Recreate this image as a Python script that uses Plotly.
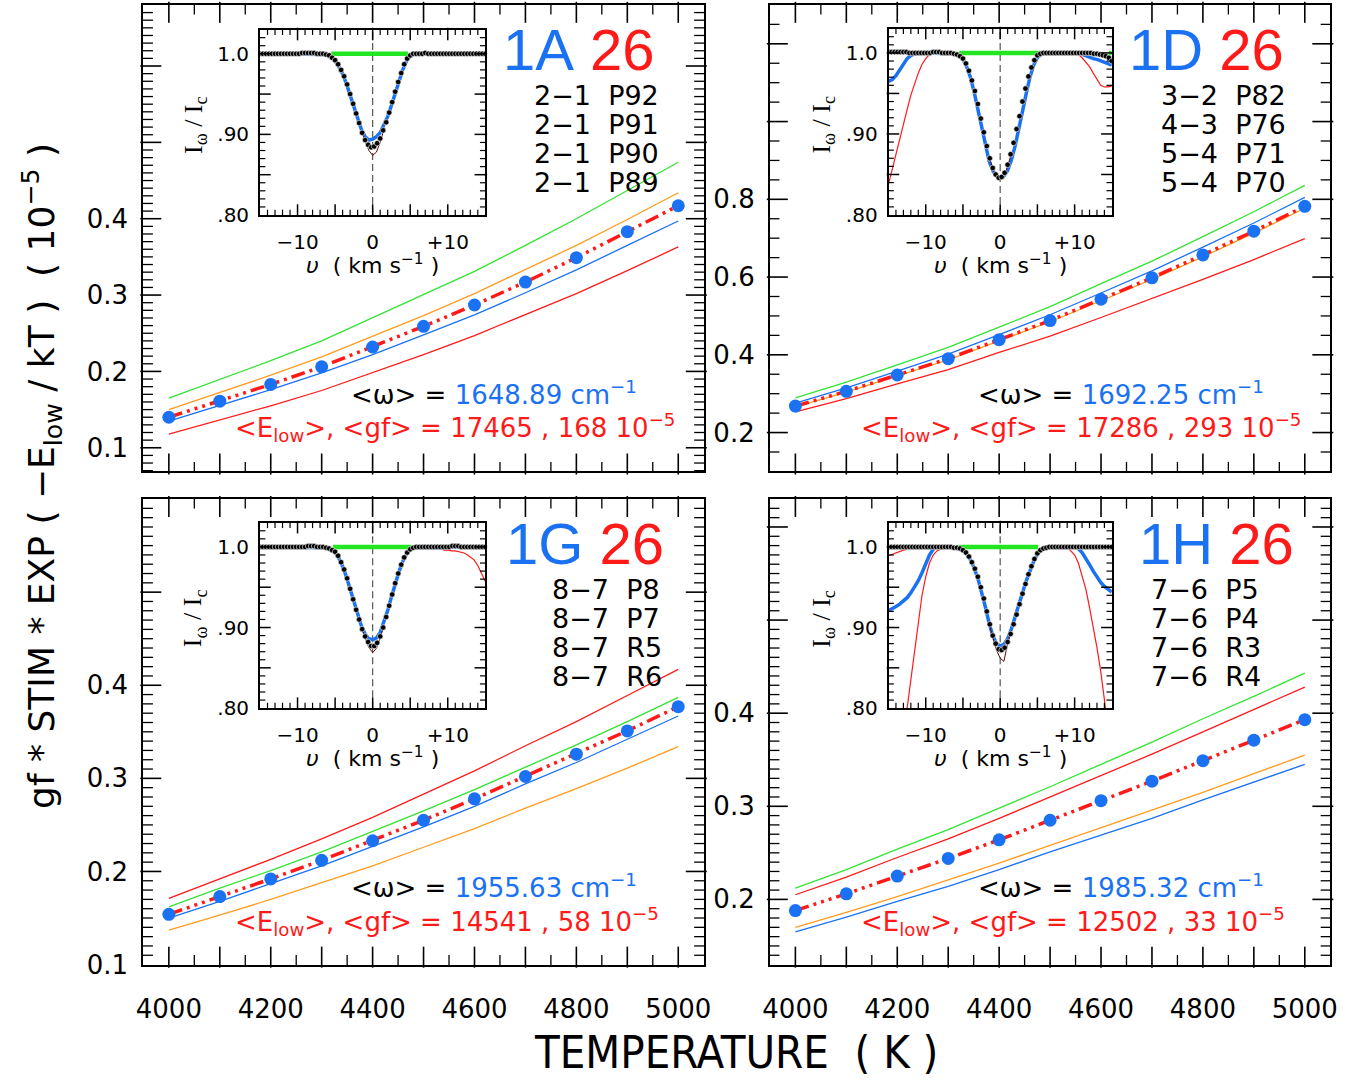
import math
import plotly.graph_objects as go

W, H = 1359, 1092

TEMPS = [4000, 4100, 4200, 4300, 4400, 4500, 4600, 4700, 4800, 4900, 5000]

MEAN_1A   = [0.140, 0.161, 0.183, 0.206, 0.232, 0.259, 0.287, 0.317, 0.349, 0.383, 0.417]
GREEN_1A  = [0.165, 0.189, 0.214, 0.240, 0.270, 0.300, 0.331, 0.365, 0.400, 0.437, 0.474]
ORANGE_1A = [0.150, 0.172, 0.195, 0.219, 0.246, 0.273, 0.302, 0.333, 0.365, 0.399, 0.434]
BLUE_1A   = [0.135, 0.155, 0.176, 0.198, 0.222, 0.248, 0.274, 0.303, 0.333, 0.365, 0.397]
RED_1A    = [0.118, 0.136, 0.155, 0.175, 0.198, 0.222, 0.247, 0.274, 0.302, 0.332, 0.363]

MEAN_1D   = [0.268, 0.306, 0.348, 0.390, 0.439, 0.488, 0.543, 0.598, 0.657, 0.718, 0.782]
GREEN_1D  = [0.289, 0.330, 0.374, 0.419, 0.471, 0.524, 0.583, 0.641, 0.704, 0.768, 0.836]
BLUE_1D   = [0.276, 0.315, 0.358, 0.402, 0.452, 0.503, 0.559, 0.616, 0.677, 0.739, 0.805]
ORANGE_1D = [0.266, 0.304, 0.346, 0.387, 0.436, 0.485, 0.539, 0.594, 0.652, 0.713, 0.777]
RED_1D    = [0.253, 0.287, 0.325, 0.362, 0.406, 0.448, 0.496, 0.544, 0.594, 0.645, 0.699]

MEAN_1G   = [0.154, 0.173, 0.192, 0.212, 0.233, 0.255, 0.278, 0.302, 0.326, 0.351, 0.377]
RED_1G    = [0.171, 0.192, 0.213, 0.235, 0.258, 0.283, 0.308, 0.335, 0.361, 0.389, 0.417]
GREEN_1G  = [0.162, 0.182, 0.201, 0.221, 0.243, 0.265, 0.288, 0.312, 0.336, 0.361, 0.387]
BLUE_1G   = [0.150, 0.168, 0.187, 0.206, 0.227, 0.248, 0.270, 0.294, 0.317, 0.342, 0.367]
ORANGE_1G = [0.137, 0.153, 0.170, 0.188, 0.206, 0.226, 0.246, 0.268, 0.289, 0.311, 0.334]

MEAN_1H   = [0.188, 0.206, 0.225, 0.244, 0.264, 0.285, 0.306, 0.327, 0.349, 0.371, 0.393]
GREEN_1H  = [0.212, 0.232, 0.254, 0.275, 0.298, 0.321, 0.345, 0.369, 0.394, 0.418, 0.443]
RED_1H    = [0.205, 0.224, 0.245, 0.265, 0.287, 0.310, 0.333, 0.356, 0.380, 0.404, 0.428]
ORANGE_1H = [0.170, 0.186, 0.203, 0.221, 0.239, 0.258, 0.277, 0.296, 0.315, 0.335, 0.355]
BLUE_1H   = [0.165, 0.181, 0.198, 0.214, 0.232, 0.251, 0.269, 0.287, 0.307, 0.326, 0.345]

VEL = [-15.0, -14.6, -14.2, -13.8, -13.4, -13.0, -12.6, -12.2, -11.8, -11.4, -11.0,
       -10.6, -10.2, -9.8, -9.4, -9.0, -8.6, -8.2, -7.8, -7.4, -7.0, -6.6,
       -6.2, -5.8, -5.4, -5.0, -4.6, -4.2, -3.8, -3.4, -3.0, -2.6, -2.2, -1.8, -1.4,
       -1.0, -0.6, -0.2, 0.2, 0.6, 1.0, 1.4, 1.8, 2.2, 2.6, 3.0, 3.4, 3.8, 4.2, 4.6,
       5.0, 5.4, 5.8, 6.2, 6.6, 7.0, 7.4, 7.8, 8.2, 8.6, 9.0, 9.4, 9.8, 10.2, 10.6,
       11.0, 11.4, 11.8, 12.2, 12.6, 13.0, 13.4, 13.8, 14.2, 14.6, 15.0]

OBS_1A = [1.000, 1.000, 1.000, 1.000, 1.000, 1.000, 1.000, 1.000, 1.000, 1.000, 1.000,
          1.000, 1.000, 1.000, 1.001, 1.001, 1.001, 1.001, 1.001, 1.000, 1.000, 1.000,
          0.999, 0.998, 0.995, 0.992, 0.987, 0.980, 0.972, 0.962, 0.950, 0.938, 0.926,
          0.914, 0.902, 0.893, 0.887, 0.884, 0.885, 0.889, 0.895, 0.905, 0.915, 0.927,
          0.940, 0.953, 0.965, 0.976, 0.987, 0.994, 0.998, 1.000,
          1.000, 1.000, 1.000, 1.001, 1.000, 1.000, 1.000, 1.000, 1.000, 1.000, 1.000,
          1.000, 1.000, 1.000, 1.000, 1.000, 1.000, 1.000, 1.000, 1.000, 1.000, 1.000,
          1.000, 1.000]
OBS_1D = [1.001, 1.001, 1.001, 1.001, 1.001, 1.001, 1.001, 1.000, 1.000, 1.000, 1.000,
          1.000, 1.000, 1.000, 1.000, 1.001, 1.001, 1.001, 1.000, 1.000, 1.000, 1.000,
          0.999, 0.998, 0.996, 0.993, 0.987, 0.978, 0.966, 0.953, 0.937, 0.919, 0.902,
          0.885, 0.870, 0.858, 0.850, 0.846, 0.847, 0.852, 0.862, 0.875, 0.889, 0.906,
          0.922, 0.940, 0.956, 0.971, 0.982, 0.991, 0.997, 0.999,
          1.000, 1.000, 1.000, 1.000, 1.000, 1.000, 1.000, 1.000, 1.000, 1.000, 1.000,
          1.000, 1.000, 1.000, 1.000, 1.000, 1.000, 0.999, 0.999, 0.998, 0.997, 0.996,
          0.994, 0.990]
OBS_1G = [1.000, 1.000, 1.000, 1.000, 1.000, 1.000, 1.000, 1.000, 1.000, 1.000, 1.000,
          1.000, 1.000, 1.000, 1.000, 1.000, 1.001, 1.001, 1.001, 1.000, 1.000, 1.000,
          0.999, 0.998, 0.996, 0.994, 0.989, 0.981, 0.972, 0.961, 0.948, 0.935, 0.922,
          0.910, 0.898, 0.889, 0.882, 0.877, 0.877, 0.881, 0.889, 0.900, 0.913, 0.927,
          0.941, 0.955, 0.967, 0.978, 0.987, 0.993, 0.997, 0.999,
          1.000, 1.000, 1.000, 1.000, 1.000, 1.000, 1.000, 1.000, 1.000, 1.000, 1.000,
          1.000, 1.001, 1.001, 1.001, 1.000, 1.000, 1.000, 1.000, 1.000, 1.000, 1.000,
          1.000, 1.000]
OBS_1H = [1.000, 1.000, 1.000, 1.000, 1.000, 1.000, 1.000, 1.000, 1.000, 1.000, 1.000,
          1.000, 1.000, 1.000, 1.000, 1.000, 1.000, 1.000, 1.000, 1.000, 1.000, 1.000,
          0.999, 0.999, 0.998, 0.996, 0.993, 0.988, 0.981, 0.973, 0.963, 0.950, 0.936,
          0.920, 0.904, 0.890, 0.880, 0.873, 0.872, 0.875, 0.882, 0.892, 0.904, 0.916,
          0.929, 0.942, 0.954, 0.966, 0.976, 0.985, 0.992, 0.996,
          0.998, 0.999, 1.000, 1.000, 1.000, 1.000, 1.000, 1.000, 1.000, 1.000, 1.000,
          1.000, 1.000, 1.000, 1.000, 1.000, 1.000, 1.000, 1.000, 1.000, 1.000, 1.000,
          1.000, 1.000]

BLUEM_1A_V = [-15, -6.5, -6, -5.5, -5, -4.5, -4, -3.5, -3, -2.5, -2, -1.5, -1, -0.5, 0,
              0.5, 1, 1.5, 2, 2.5, 3, 3.5, 4, 4.5, 5, 5.5, 15]
BLUEM_1A   = [1.0, 1.0, 0.999, 0.996, 0.991, 0.984, 0.975, 0.963, 0.949, 0.934, 0.919,
              0.906, 0.897, 0.893, 0.894, 0.897, 0.902, 0.911, 0.922, 0.936, 0.951, 0.966,
              0.980, 0.991, 0.997, 1.0, 1.0]
BLUEM_1D_V = [-15, -14.5, -14, -13.5, -13, -12.5, -12, -11.5, -11, -10.5,
              -6.5, -6, -5.5, -5, -4.5, -4, -3.5, -3, -2.5, -2, -1.5, -1, -0.5, 0,
              0.5, 1, 1.5, 2, 2.5, 3, 3.5, 4, 4.5, 5, 5.5, 6,
              10.5, 11, 11.5, 12, 12.5, 13, 13.5, 14, 14.5, 15]
BLUEM_1D   = [0.965, 0.967, 0.972, 0.979, 0.987, 0.993, 0.997, 0.999, 1.0, 1.0,
              1.0, 0.999, 0.997, 0.992, 0.983, 0.970, 0.952, 0.930, 0.907, 0.885, 0.867,
              0.855, 0.848, 0.846, 0.848, 0.855, 0.868, 0.885, 0.905, 0.928, 0.950, 0.970,
              0.985, 0.994, 0.998, 1.0,
              1.0, 0.998, 0.996, 0.995, 0.993, 0.992, 0.990, 0.989, 0.987, 0.985]
BLUEM_1G_V = [-15, -6.5, -6, -5.5, -5, -4.5, -4, -3.5, -3, -2.5, -2, -1.5, -1, -0.5, 0,
              0.5, 1, 1.5, 2, 2.5, 3, 3.5, 4, 4.5, 5, 5.5, 15]
BLUEM_1G   = [1.0, 1.0, 0.999, 0.997, 0.993, 0.986, 0.976, 0.963, 0.947, 0.931, 0.916,
              0.902, 0.892, 0.886, 0.885, 0.887, 0.894, 0.906, 0.921, 0.938, 0.954, 0.969,
              0.982, 0.991, 0.997, 0.999, 1.0]
BLUEM_1H_V = [-15, -14.5, -14, -13.5, -13, -12.5, -12, -11.5, -11, -10.5, -10, -9.5, -9, -8.5,
              -6.5, -6, -5.5, -5, -4.5, -4, -3.5, -3, -2.5, -2, -1.5, -1, -0.5, 0,
              0.5, 1, 1.5, 2, 2.5, 3, 3.5, 4, 4.5, 5, 5.5, 6, 6.5,
              10, 10.5, 11, 11.5, 12, 12.5, 13, 13.5, 14, 14.5, 15]
BLUEM_1H   = [0.921, 0.923, 0.926, 0.929, 0.933, 0.937, 0.943, 0.950, 0.958, 0.968, 0.980,
              0.990, 0.997, 1.0,
              1.0, 0.999, 0.998, 0.995, 0.991, 0.984, 0.974, 0.961, 0.945, 0.926, 0.906,
              0.890, 0.880, 0.877, 0.879, 0.886, 0.898, 0.912, 0.928, 0.943, 0.958, 0.971,
              0.982, 0.991, 0.996, 0.999, 1.0,
              1.0, 0.998, 0.993, 0.986, 0.978, 0.970, 0.962, 0.956, 0.951, 0.947, 0.944]

REDM_1A_V = []
REDM_1A   = []
REDM_1D_V = [-15, -14.5, -14, -13.5, -13, -12.5, -12, -11.5, -11, -10.5, -10, -9.5, -9, None,
             10, 10.5, 11, 11.5, 12, 12.5, 13, 13.5, 14, 14.5, 15]
REDM_1D   = [0.838, 0.857, 0.876, 0.895, 0.913, 0.930, 0.948, 0.963, 0.975, 0.986, 0.993,
             0.998, 1.0, None,
             1.0, 0.998, 0.994, 0.989, 0.983, 0.975, 0.967, 0.960, 0.958, 0.958, 0.959]
REDM_1G_V = [8.5, 9, 9.5, 10, 10.5, 11, 11.5, 12, 12.5, 13, 13.5, 14, 14.5, 15]
REDM_1G   = [1.0, 0.999, 0.996, 0.996, 0.995, 0.995, 0.994, 0.993, 0.991, 0.988, 0.984,
             0.977, 0.968, 0.957]
REDM_1H_V = [-15, -14, -13, -12.5, None,
             -12.9, -12.5, -12, -11.5, -11, -10.5, -10, -9.5, -9, -8.5, -8, -7.5, -7, None,
             9, 9.5, 10, 10.5, 11, 11.5, 12, 12.5, 13, 13.5, 14, 14.5]
REDM_1H   = [0.989, 0.993, 0.996, 0.997, None,
             0.785, 0.800, 0.835, 0.870, 0.905, 0.940, 0.963, 0.980, 0.990, 0.995, 0.997,
             0.998, 1.0, None,
             1.0, 0.995, 0.990, 0.980, 0.965, 0.948, 0.925, 0.902, 0.875, 0.846, 0.812, 0.775]

DARK_V  = [-1.5, -1.0, -0.5, 0.0, 0.5, 1.0, 1.5]
DARK_1A = [0.905, 0.893, 0.880, 0.874, 0.878, 0.890, 0.906]
DARK_1D = [0.872, 0.857, 0.847, 0.843, 0.848, 0.860, 0.876]
DARK_1G = [0.900, 0.888, 0.875, 0.869, 0.874, 0.887, 0.902]
DARK_1H = [0.905, 0.888, 0.872, 0.862, 0.858, 0.880, 0.896]

GBAR_1A_V = [-5.5, 4.7]
GBAR_1D_V = [-5.5, 5.9, None, 14.6, 15.0]
GBAR_1G_V = [-5.3, 5.1]
GBAR_1H_V = [-5.6, 5.1]

PANEL_NAMES = ["1A", "1D", "1G", "1H"]
PANEL_NUM = ["26", "26", "26", "26"]
TRANSITIONS = [
    ["2−1  P92", "2−1  P91", "2−1  P90", "2−1  P89"],
    ["3−2  P82", "4−3  P76", "5−4  P71", "5−4  P70"],
    ["8−7  P8", "8−7  P7", "8−7  R5", "8−7  R6"],
    ["7−6  P5", "7−6  P4", "7−6  R3", "7−6  R4"],
]
OMEGA = ["1648.89", "1692.25", "1955.63", "1985.32"]
ELOW = ["17465", "17286", "14541", "12502"]
GF = ["168", "293", "58", "33"]

X_TICKVALS = [4000, 4100, 4200, 4300, 4400, 4500, 4600, 4700, 4800, 4900, 5000]
X_TICKTEXT = ["4000", "", "4200", "", "4400", "", "4600", "", "4800", "", "5000"]
Y_TICKVALS = [[0.1, 0.2, 0.3, 0.4, 0.5, 0.6],
              [0.2, 0.4, 0.6, 0.8, 1.0, 1.2],
              [0.1, 0.2, 0.3, 0.4, 0.5, 0.6],
              [0.2, 0.3, 0.4, 0.5, 0.6]]
Y_TICKTEXT = [["0.1", "0.2", "0.3", "0.4", "", ""],
              ["0.2", "0.4", "0.6", "0.8", "", ""],
              ["0.1", "0.2", "0.3", "0.4", "", ""],
              ["0.2", "0.3", "0.4", "", ""]]
V_TICKVALS = [-15, -10, -5, 0, 5, 10, 15]
V_TICKTEXT = ["", "−10", "", "0", "", "+10", ""]
I_TICKVALS = [0.8, 0.85, 0.9, 0.95, 1.0]
I_TICKTEXT = [".80", "", ".90", "", "1.0"]

BLUE = "#1a72f2"
RED = "#ff1a1a"
GREEN = "#33e333"
ORANGE = "#ff9b1f"
DARK = "#5c0a0a"
SANS = "DejaVu Sans, Liberation Sans, sans-serif"
HELV = "Liberation Sans, Arial, sans-serif"
NARROW = "Liberation Sans Narrow, DejaVu Sans Condensed, Arial Narrow, sans-serif"

MAIN_BOX = [(137, 704, 5, 478), (771, 1338, 5, 478), (137, 704, 506, 978), (771, 1338, 506, 978)]
INSET_BOX = [(255, 483, 30, 218), (891, 1117, 29, 218), (255, 483, 530, 718), (891, 1117, 530, 718)]
Y_RANGE = [[0.069, 0.680], [0.1, 1.3], [0.1, 0.6], [0.13, 0.63]]
Y_MINOR = [0.01, 0.05, 0.01, 0.01]
X_RANGE = [3950, 5050]
V_RANGE = [-15, 15]
I_RANGE = [0.8, 1.03]

BIG_POS = [(657, 50), (1293, 50), (666, 551), (1303, 551)]
TRANS_POS = [(530, 97), (1165, 97), (548, 598), (1155, 598)]
OMEGA_POS = [(345, 398), (980, 398), (345, 898), (980, 898)]
GF_POS = [(228, 433), (861, 433), (228, 934), (861, 934)]

main_lines = [
    (MEAN_1A, GREEN_1A, ORANGE_1A, BLUE_1A, RED_1A),
    (MEAN_1D, GREEN_1D, ORANGE_1D, BLUE_1D, RED_1D),
    (MEAN_1G, GREEN_1G, ORANGE_1G, BLUE_1G, RED_1G),
    (MEAN_1H, GREEN_1H, ORANGE_1H, BLUE_1H, RED_1H),
]
inset_data = [
    (OBS_1A, BLUEM_1A_V, BLUEM_1A, REDM_1A_V, REDM_1A, DARK_1A, GBAR_1A_V),
    (OBS_1D, BLUEM_1D_V, BLUEM_1D, REDM_1D_V, REDM_1D, DARK_1D, GBAR_1D_V),
    (OBS_1G, BLUEM_1G_V, BLUEM_1G, REDM_1G_V, REDM_1G, DARK_1G, GBAR_1G_V),
    (OBS_1H, BLUEM_1H_V, BLUEM_1H, REDM_1H_V, REDM_1H, DARK_1H, GBAR_1H_V),
]


def ax_name(n):
    return ("x" if n == 1 else f"x{n}"), ("y" if n == 1 else f"y{n}")


def ax_key(n):
    return ("xaxis" if n == 1 else f"xaxis{n}"), ("yaxis" if n == 1 else f"yaxis{n}")


def fx(px):
    return px / W


def fy(py):
    return 1 - py / H


def steps(lo, hi, d):
    k0 = math.ceil(lo / d - 1e-9)
    k1 = math.floor(hi / d + 1e-9)
    return [round(k * d, 6) for k in range(k0, k1 + 1)]


fig = go.Figure()


def add_ticks(xa, ya, xr, yr, wpx, hpx, xvals, yvals, length, width):
    """Inside tick marks on all four sides, drawn as line-shaped markers."""
    hy = 0.5 * length * (yr[1] - yr[0]) / hpx
    hx = 0.5 * length * (xr[1] - xr[0]) / wpx
    xv = [v for v in xvals if xr[0] < v < xr[1]]
    yv = [v for v in yvals if yr[0] < v < yr[1]]
    mk = dict(size=length, color="black", line=dict(color="black", width=width))
    fig.add_trace(go.Scatter(
        x=xv + xv, y=[yr[0] + hy] * len(xv) + [yr[1] - hy] * len(xv),
        mode="markers", xaxis=xa, yaxis=ya, cliponaxis=False, hoverinfo="skip",
        marker=dict(symbol="line-ns", **mk)))
    fig.add_trace(go.Scatter(
        x=[xr[0] + hx] * len(yv) + [xr[1] - hx] * len(yv), y=yv + yv,
        mode="markers", xaxis=xa, yaxis=ya, cliponaxis=False, hoverinfo="skip",
        marker=dict(symbol="line-ew", **mk)))


for i in range(4):
    xa, ya = ax_name(i + 1)
    mean, g, o, b, r = main_lines[i]
    for vals, col in ((g, GREEN), (o, ORANGE), (b, BLUE), (r, RED)):
        fig.add_trace(go.Scatter(x=TEMPS, y=vals, mode="lines", xaxis=xa, yaxis=ya,
                                 line=dict(color=col, width=1.3), hoverinfo="skip"))
    fig.add_trace(go.Scatter(x=TEMPS, y=mean, mode="lines", xaxis=xa, yaxis=ya,
                             line=dict(color=RED, width=3.5,
                                       dash="14px,5px,3px,5px,3px,5px,3px,5px")))
    fig.add_trace(go.Scatter(x=TEMPS, y=mean, mode="markers", xaxis=xa, yaxis=ya,
                             marker=dict(color=BLUE, size=13)))
    x0, x1, y0, y1 = MAIN_BOX[i]
    wpx, hpx = x1 - x0, y1 - y0
    minx = [v for v in steps(X_RANGE[0], X_RANGE[1], 50) if v not in X_TICKVALS]
    miny = [v for v in steps(Y_RANGE[i][0], Y_RANGE[i][1], Y_MINOR[i])
            if all(abs(v - u) > 1e-6 for u in Y_TICKVALS[i])]
    add_ticks(xa, ya, X_RANGE, Y_RANGE[i], wpx, hpx, X_TICKVALS, Y_TICKVALS[i], 15, 1.6)
    add_ticks(xa, ya, X_RANGE, Y_RANGE[i], wpx, hpx, minx, miny, 8, 1.3)

for i in range(4):
    xa, ya = ax_name(i + 5)
    obs, bv, bm, rv, rm, dk, gb = inset_data[i]
    fig.add_trace(go.Scatter(x=[0, 0], y=[0.8, 1.03], mode="lines", xaxis=xa, yaxis=ya,
                             line=dict(color="#555555", width=1.2, dash="7px,4px")))
    if rv:
        fig.add_trace(go.Scatter(x=rv, y=rm, mode="lines", xaxis=xa, yaxis=ya,
                                 line=dict(color=RED, width=1.2), connectgaps=False))
    fig.add_trace(go.Scatter(x=bv, y=bm, mode="lines", xaxis=xa, yaxis=ya,
                             line=dict(color=BLUE, width=3.5)))
    fig.add_trace(go.Scatter(x=DARK_V, y=dk, mode="lines", xaxis=xa, yaxis=ya,
                             line=dict(color=DARK, width=1.0)))
    fig.add_trace(go.Scatter(x=gb, y=[1.0 if v is not None else None for v in gb],
                             mode="lines", xaxis=xa, yaxis=ya,
                             line=dict(color="#22e622", width=4.5), connectgaps=False))
    fig.add_trace(go.Scatter(x=VEL, y=obs, mode="markers", xaxis=xa, yaxis=ya,
                             marker=dict(color="black", size=5.5,
                                         line=dict(color="white", width=0.6))))
    x0, x1, y0, y1 = INSET_BOX[i]
    wpx, hpx = x1 - x0, y1 - y0
    minx = [v for v in steps(-15, 15, 1) if v not in V_TICKVALS]
    miny = [v for v in steps(0.8, 1.03, 0.01) if all(abs(v - u) > 1e-6 for u in I_TICKVALS)]
    add_ticks(xa, ya, V_RANGE, I_RANGE, wpx, hpx, V_TICKVALS, I_TICKVALS, 9, 1.5)
    add_ticks(xa, ya, V_RANGE, I_RANGE, wpx, hpx, minx, miny, 4.5, 1.2)

layout = dict(width=W, height=H, margin=dict(l=0, r=0, t=0, b=0),
              paper_bgcolor="white", plot_bgcolor="white", showlegend=False)

COMMON = dict(showline=True, linecolor="black", mirror=True, showgrid=False,
              zeroline=False, ticks="", tickmode="array")

for i in range(4):
    n = i + 1
    x0, x1, y0, y1 = MAIN_BOX[i]
    xk, yk = ax_key(n)
    xa, ya = ax_name(n)
    layout[xk] = dict(
        domain=[fx(x0), fx(x1)], anchor=ya, range=X_RANGE,
        tickvals=X_TICKVALS, ticktext=X_TICKTEXT, showticklabels=(i >= 2), linewidth=2,
        tickfont=dict(family=SANS, size=26, color="black"), ticklabelstandoff=20, **COMMON)
    layout[yk] = dict(
        domain=[fy(y1), fy(y0)], anchor=xa, range=Y_RANGE[i],
        tickvals=Y_TICKVALS[i], ticktext=Y_TICKTEXT[i], linewidth=2,
        tickfont=dict(family=SANS, size=26, color="black"), ticklabelstandoff=8, **COMMON)

for i in range(4):
    n = i + 5
    x0, x1, y0, y1 = INSET_BOX[i]
    xa, ya = ax_name(n)
    layout[f"xaxis{n}"] = dict(
        domain=[fx(x0), fx(x1)], anchor=ya, range=V_RANGE,
        tickvals=V_TICKVALS, ticktext=V_TICKTEXT, linewidth=1.8,
        tickfont=dict(family=SANS, size=20, color="black"), ticklabelstandoff=8, **COMMON)
    layout[f"yaxis{n}"] = dict(
        domain=[fy(y1), fy(y0)], anchor=xa, range=I_RANGE,
        tickvals=I_TICKVALS, ticktext=I_TICKTEXT, linewidth=1.8,
        tickfont=dict(family=SANS, size=20, color="black"), ticklabelstandoff=5, **COMMON)

NB = "\u00a0"
ann = []


def add_text(text, px, py, size, family=SANS, xanchor="left", yanchor="middle", color="black",
             angle=0):
    ann.append(dict(text=text, x=fx(px), y=fy(py), xref="paper", yref="paper",
                    xanchor=xanchor, yanchor=yanchor, showarrow=False, textangle=angle,
                    font=dict(family=family, size=size, color=color)))


for i in range(4):
    bx, by = BIG_POS[i]
    add_text(f'<span style="color:{BLUE}">{PANEL_NAMES[i]}</span>{NB}'
             f'<span style="color:{RED}">{PANEL_NUM[i]}</span>',
             bx, by, 58, family=HELV, xanchor="right")
    tx, ty = TRANS_POS[i]
    for k, t in enumerate(TRANSITIONS[i]):
        add_text(t.replace(" ", NB), tx, ty + k * 29.3, 27)
    ox, oy = OMEGA_POS[i]
    add_text(f"&lt;ω&gt;{NB}={NB}<span style='color:{BLUE}'>{OMEGA[i]}{NB}cm<sup>−1</sup></span>",
             ox, oy, 26)
    gx, gy = GF_POS[i]
    add_text(f"&lt;E<sub>low</sub>&gt;,{NB}&lt;gf&gt;{NB}={NB}{ELOW[i]}{NB},{NB}{GF[i]}{NB}10<sup>−5</sup>",
             gx, gy, 26, color=RED)
    ix0, ix1, iy0, iy1 = INSET_BOX[i]
    add_text(f"I<sub>ω</sub>{NB}/{NB}I<sub>c</sub>", ix0 - 66, iy0 + 97, 26,
             family="Liberation Serif, DejaVu Serif, serif", xanchor="center", angle=-90)
    add_text(f"<i>υ</i>{NB}{NB}({NB}km{NB}s<sup>−1</sup>{NB})", (ix0 + ix1) / 2, iy1 + 50, 22,
             xanchor="center")

add_text(f"TEMPERATURE{NB}{NB}({NB}K{NB})", 737, 1067, 45, family=NARROW, xanchor="center")
add_text(f"gf{NB}*{NB}STIM{NB}*{NB}EXP{NB}({NB}−E<sub>low</sub>{NB}/{NB}kT{NB}){NB}{NB}({NB}10<sup>−5</sup>{NB})",
         35, 483, 36, xanchor="center", angle=-90)

layout["annotations"] = ann
fig.update_layout(**layout)
fig.write_html("out.html")
